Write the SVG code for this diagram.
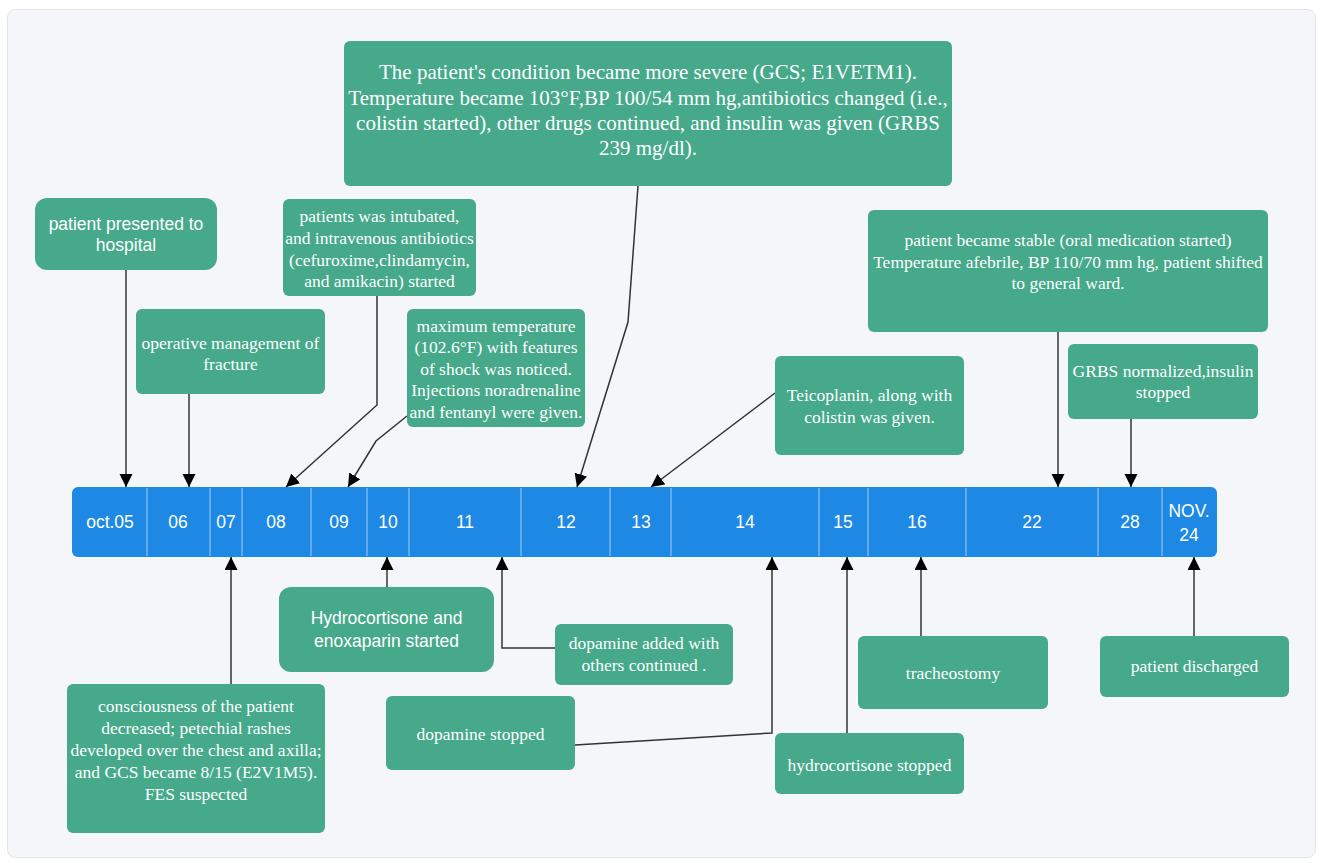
<svg xmlns="http://www.w3.org/2000/svg" width="1322" height="863" viewBox="0 0 1322 863">
<style>
.box{fill:#45a98a;}
.st{font-family:"Liberation Serif","Times New Roman",serif;font-size:17.5px;fill:#fff;text-anchor:middle;}
.big{font-size:21px;}
.ss{font-family:"Liberation Sans",Arial,sans-serif;font-size:17.5px;fill:#fff;text-anchor:middle;}
.tl{font-family:"Liberation Sans",Arial,sans-serif;font-size:17.5px;fill:#fff;text-anchor:middle;}
.div{stroke:#8ec3f2;stroke-width:1.2;}
.con{fill:none;stroke:#333;stroke-width:1.5;}
</style>
<defs>
<marker id="ah" markerUnits="userSpaceOnUse" markerWidth="14" markerHeight="14" refX="13" refY="6.5" orient="auto">
<path d="M0,0 L13,6.5 L0,13 z" fill="#000"/>
</marker>
</defs>
<rect x="0" y="0" width="1322" height="863" fill="#fff"/>
<rect x="7.5" y="9.5" width="1308" height="848" rx="8" fill="#f4f6f9" stroke="#e2e4e8"/>

<g id="timeline">
<rect x="72" y="487" width="1145" height="70" rx="6" fill="#1e88e5"/>
<line class="div" x1="147" y1="488" x2="147" y2="556"/>
<line class="div" x1="210" y1="488" x2="210" y2="556"/>
<line class="div" x1="242" y1="488" x2="242" y2="556"/>
<line class="div" x1="311" y1="488" x2="311" y2="556"/>
<line class="div" x1="367" y1="488" x2="367" y2="556"/>
<line class="div" x1="409" y1="488" x2="409" y2="556"/>
<line class="div" x1="521" y1="488" x2="521" y2="556"/>
<line class="div" x1="610" y1="488" x2="610" y2="556"/>
<line class="div" x1="671" y1="488" x2="671" y2="556"/>
<line class="div" x1="819" y1="488" x2="819" y2="556"/>
<line class="div" x1="868" y1="488" x2="868" y2="556"/>
<line class="div" x1="966" y1="488" x2="966" y2="556"/>
<line class="div" x1="1098" y1="488" x2="1098" y2="556"/>
<line class="div" x1="1162" y1="488" x2="1162" y2="556"/>
<text class="tl" x="110" y="528">oct.05</text>
<text class="tl" x="178" y="528">06</text>
<text class="tl" x="226" y="528">07</text>
<text class="tl" x="276" y="528">08</text>
<text class="tl" x="339" y="528">09</text>
<text class="tl" x="388" y="528">10</text>
<text class="tl" x="465" y="528">11</text>
<text class="tl" x="566" y="528">12</text>
<text class="tl" x="641" y="528">13</text>
<text class="tl" x="745" y="528">14</text>
<text class="tl" x="843" y="528">15</text>
<text class="tl" x="917" y="528">16</text>
<text class="tl" x="1032" y="528">22</text>
<text class="tl" x="1130" y="528">28</text>
<text class="tl" x="1189" y="517">NOV.</text>
<text class="tl" x="1189" y="541">24</text>
</g>

<g id="connectors">
<path class="con" d="M126,270 V487" marker-end="url(#ah)"/>
<path class="con" d="M189,394 V487" marker-end="url(#ah)"/>
<path class="con" d="M377,296 V405 L286,487" marker-end="url(#ah)"/>
<path class="con" d="M407,416 L376,441 L348,487" marker-end="url(#ah)"/>
<path class="con" d="M638,186 L628,322 L577,487" marker-end="url(#ah)"/>
<path class="con" d="M775,393 L651,487" marker-end="url(#ah)"/>
<path class="con" d="M1058,332 V487" marker-end="url(#ah)"/>
<path class="con" d="M1131,419 V487" marker-end="url(#ah)"/>
<path class="con" d="M231,684 V557" marker-end="url(#ah)"/>
<path class="con" d="M387,587 V557" marker-end="url(#ah)"/>
<path class="con" d="M555,648 H502 V557" marker-end="url(#ah)"/>
<path class="con" d="M575,745 L772,733 V557" marker-end="url(#ah)"/>
<path class="con" d="M847,733 V557" marker-end="url(#ah)"/>
<path class="con" d="M921,636 V557" marker-end="url(#ah)"/>
<path class="con" d="M1194,636 V557" marker-end="url(#ah)"/>
</g>

<g id="n-presented">
<rect class="box" x="35" y="198" width="182" height="72" rx="12"/>
<text class="ss" x="126" y="230">patient presented to</text>
<text class="ss" x="126" y="251">hospital</text>
</g>

<g id="n-operative">
<rect class="box" x="136" y="309" width="189" height="85" rx="6"/>
<text class="st" x="230.5" y="349">operative management of</text>
<text class="st" x="230.5" y="370">fracture</text>
</g>

<g id="n-intubated">
<rect class="box" x="283" y="199" width="193" height="97" rx="6"/>
<text class="st" x="379.5" y="222">patients was intubated,</text>
<text class="st" x="379.5" y="244">and intravenous antibiotics</text>
<text class="st" x="379.5" y="266">(cefuroxime,clindamycin,</text>
<text class="st" x="379.5" y="287">and amikacin) started</text>
</g>

<g id="n-maxtemp">
<rect class="box" x="407" y="309" width="178" height="118" rx="6"/>
<text class="st" x="496" y="332">maximum temperature</text>
<text class="st" x="496" y="353">(102.6°F) with features</text>
<text class="st" x="496" y="375">of shock was noticed.</text>
<text class="st" x="496" y="396">Injections noradrenaline</text>
<text class="st" x="496" y="418">and fentanyl were given.</text>
</g>

<g id="n-severe">
<rect class="box" x="344" y="41" width="608" height="145" rx="6"/>
<text class="st big" x="648" y="79">The patient's condition became more severe (GCS; E1VETM1).</text>
<text class="st big" x="648" y="105">Temperature became 103°F,BP 100/54 mm hg,antibiotics changed (i.e.,</text>
<text class="st big" x="648" y="130">colistin started), other drugs continued, and insulin was given (GRBS</text>
<text class="st big" x="648" y="155">239 mg/dl).</text>
</g>

<g id="n-teicoplanin">
<rect class="box" x="775" y="356" width="189" height="99" rx="6"/>
<text class="st" x="869.5" y="401">Teicoplanin, along with</text>
<text class="st" x="869.5" y="423">colistin was given.</text>
</g>

<g id="n-stable">
<rect class="box" x="868" y="210" width="400" height="122" rx="6"/>
<text class="st" x="1068" y="246">patient became stable (oral medication started)</text>
<text class="st" x="1068" y="268">Temperature afebrile, BP 110/70 mm hg, patient shifted</text>
<text class="st" x="1068" y="289">to general ward.</text>
</g>

<g id="n-grbs">
<rect class="box" x="1068" y="344" width="190" height="75" rx="6"/>
<text class="st" x="1163" y="377">GRBS normalized,insulin</text>
<text class="st" x="1163" y="398">stopped</text>
</g>

<g id="n-consciousness">
<rect class="box" x="67" y="684" width="258" height="149" rx="6"/>
<text class="st" x="196" y="712">consciousness of the patient</text>
<text class="st" x="196" y="734">decreased; petechial rashes</text>
<text class="st" x="196" y="756">developed over the chest and axilla;</text>
<text class="st" x="196" y="778">and GCS became 8/15 (E2V1M5).</text>
<text class="st" x="196" y="800">FES suspected</text>
</g>

<g id="n-hydrocortisone">
<rect class="box" x="279" y="587" width="215" height="85" rx="12"/>
<text class="ss" x="386.5" y="624">Hydrocortisone and</text>
<text class="ss" x="386.5" y="647">enoxaparin started</text>
</g>

<g id="n-dopamine-added">
<rect class="box" x="555" y="624" width="178" height="61" rx="6"/>
<text class="st" x="644" y="649">dopamine added with</text>
<text class="st" x="644" y="671">others continued .</text>
</g>

<g id="n-dopamine-stopped">
<rect class="box" x="386" y="696" width="189" height="74" rx="6"/>
<text class="st" x="480.5" y="740">dopamine stopped</text>
</g>

<g id="n-hydrocortisone-stopped">
<rect class="box" x="775" y="733" width="189" height="61" rx="6"/>
<text class="st" x="869.5" y="771">hydrocortisone stopped</text>
</g>

<g id="n-tracheostomy">
<rect class="box" x="858" y="636" width="190" height="73" rx="6"/>
<text class="st" x="953" y="679">tracheostomy</text>
</g>

<g id="n-discharged">
<rect class="box" x="1100" y="636" width="189" height="61" rx="6"/>
<text class="st" x="1194.5" y="672">patient discharged</text>
</g>
</svg>
